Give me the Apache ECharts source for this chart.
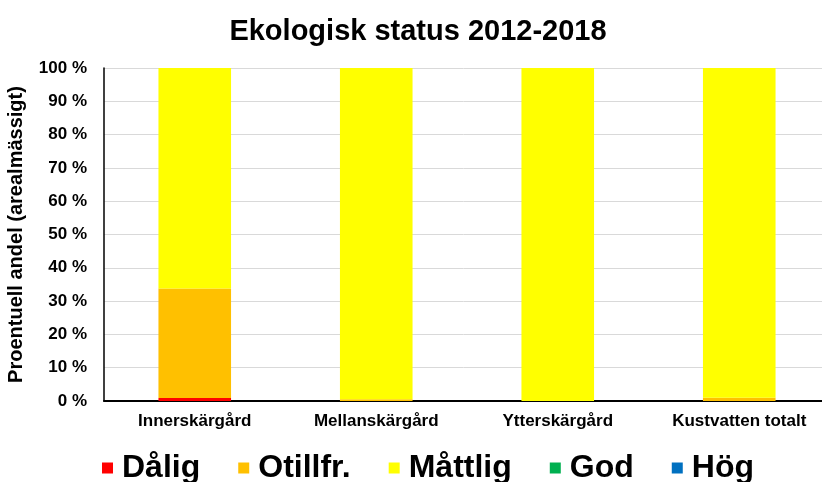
<!DOCTYPE html>
<html>
<head>
<meta charset="utf-8">
<script src="https://cdn.jsdelivr.net/npm/echarts@6/dist/echarts.min.js"></script>
<style>
  html, body { margin: 0; padding: 0; background: #fff; }
  #chart { width: 822px; height: 482px; }
</style>
</head>
<body>
<div id="chart"></div>
<script>
// Areas along the coast
const categories = ['Innerskärgård', 'Mellanskärgård', 'Ytterskärgård', 'Kustvatten totalt'];

// Share of area (%) per ecological status class
const dalig    = [0.9, 0, 0, 0];
const otillfr  = [32.9, 0.5, 0, 1.0];
const mattlig  = [66.2, 99.5, 100, 99.0];
const god      = [0, 0, 0, 0];
const hog      = [0, 0, 0, 0];

const statusNames = ['Dålig', 'Otillfr.', 'Måttlig', 'God', 'Hög'];
const statusColors = ['#FF0000', '#FFC000', '#FFFF00', '#00B050', '#0070C0'];
const statusValues = [dalig, otillfr, mattlig, god, hog];

const FONT = '"Liberation Sans", Arial, sans-serif';

const chart = echarts.init(document.getElementById('chart'), null, { renderer: 'canvas' });

chart.setOption({
  animation: false,
  backgroundColor: '#ffffff',
  title: {
    text: 'Ekologisk status 2012-2018',
    left: 413,
    top: 12,
    textAlign: 'center',
    textStyle: { fontFamily: FONT, fontWeight: 'bold', fontSize: 29, color: '#000' }
  },
  legend: {
    data: statusNames,
    bottom: -7,
    left: 97,
    itemWidth: 11,
    itemHeight: 11,
    itemGap: 38,
    icon: 'rect',
    textStyle: { fontFamily: FONT, fontWeight: 'bold', fontSize: 32, color: '#000', padding: [0, 0, 0, 4] }
  },
  grid: { left: 104, top: 68, bottom: 81, right: -8, containLabel: false, outerBoundsMode: 'none' },
  xAxis: {
    type: 'category',
    data: categories,
    axisLine: { show: true, lineStyle: { color: '#000', width: 2 } },
    axisTick: { show: false },
    axisLabel: { fontFamily: FONT, fontWeight: 'bold', fontSize: 17, color: '#000', margin: 12 }
  },
  yAxis: {
    type: 'value',
    min: 0,
    max: 100,
    interval: 10,
    name: 'Proentuell andel (arealmässigt)',
    nameLocation: 'middle',
    nameGap: 78,
    nameTextStyle: { fontFamily: FONT, fontWeight: 'bold', fontSize: 20, color: '#000' },
    axisLine: { show: true, lineStyle: { color: '#000', width: 1.5 } },
    axisTick: { show: false },
    splitLine: { lineStyle: { color: '#d9d9d9', width: 1 } },
    axisLabel: {
      formatter: '{value} %',
      fontFamily: FONT, fontWeight: 'bold', fontSize: 17, color: '#000', margin: 17
    }
  },
  series: statusNames.map((name, i) => ({
    name,
    type: 'bar',
    stack: 'status',
    barWidth: '40%',
    itemStyle: { color: statusColors[i] },
    data: statusValues[i]
  }))
});
</script>
</body>
</html>
